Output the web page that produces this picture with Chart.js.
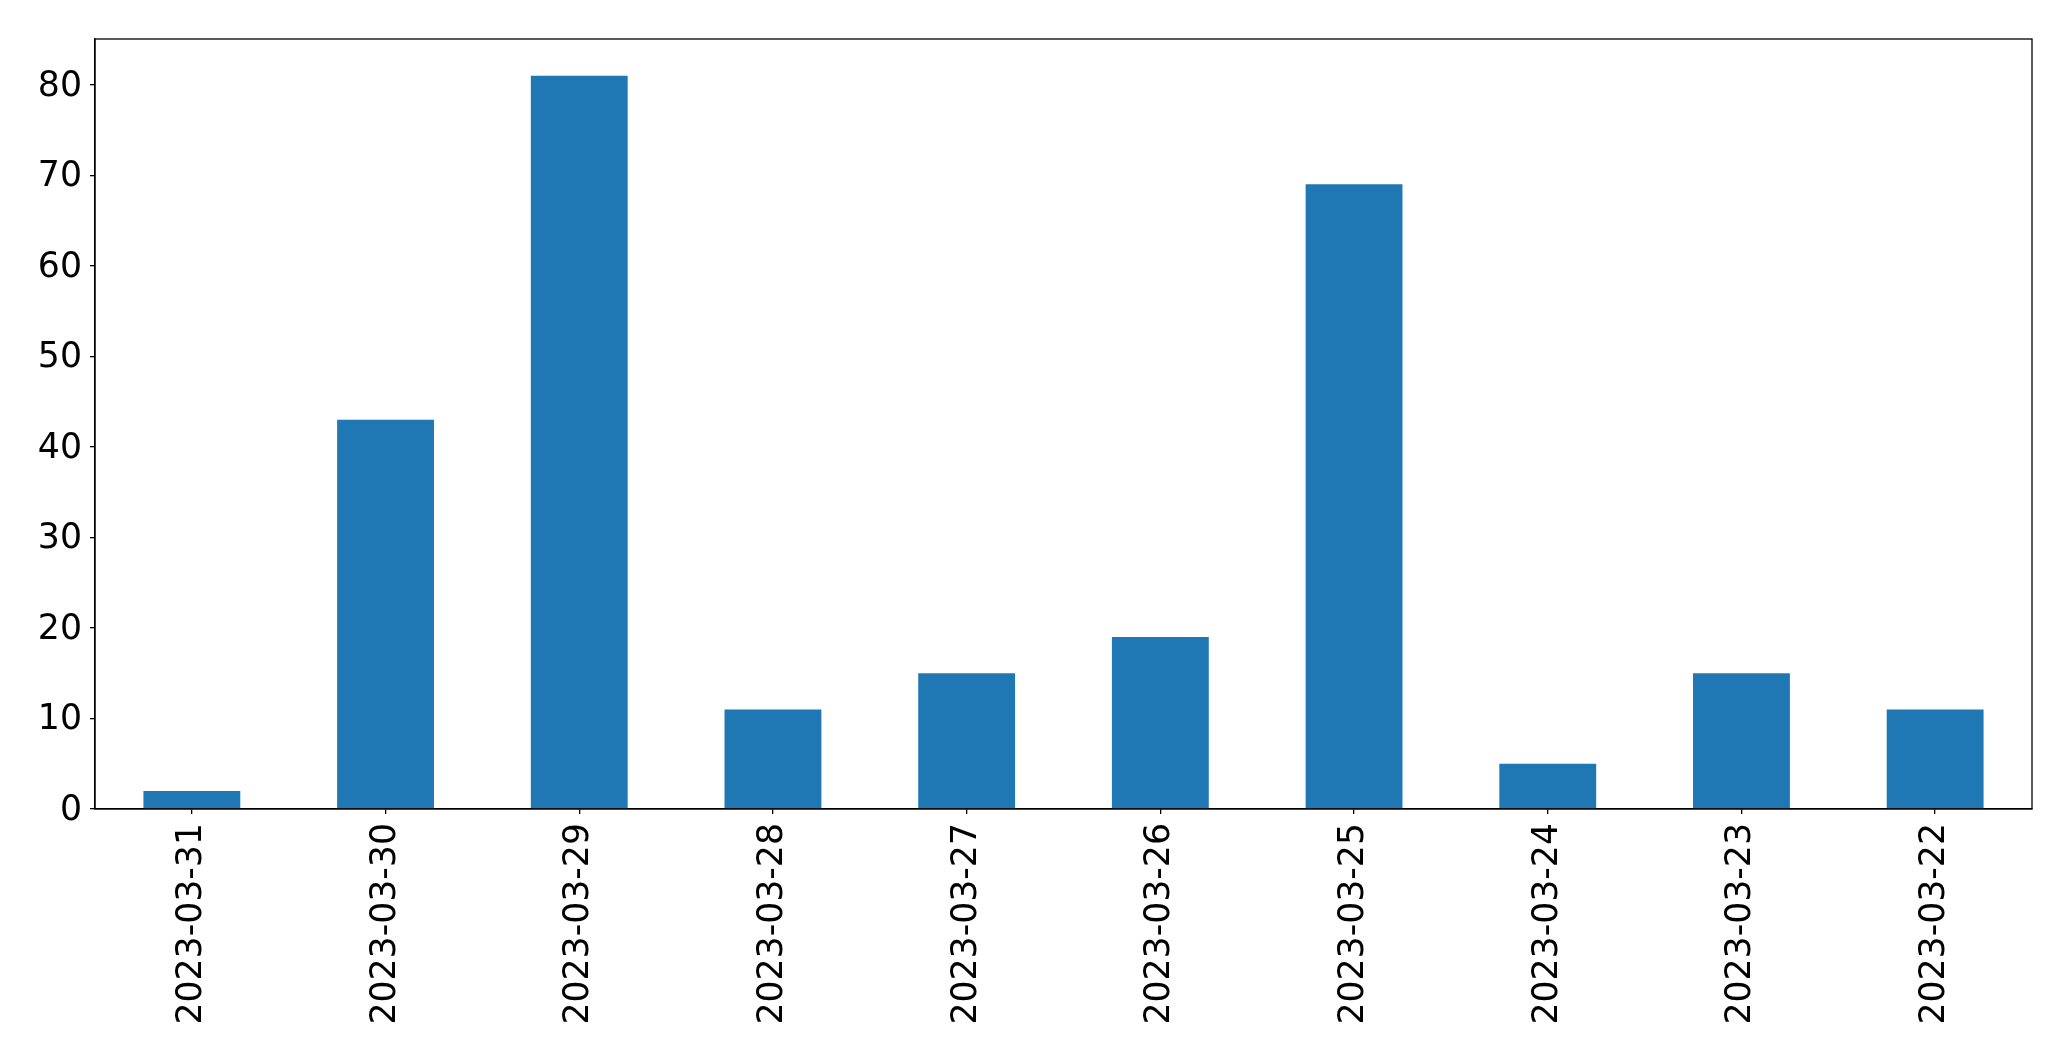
<!DOCTYPE html>
<html>
<head>
<meta charset="utf-8">
<script src="https://cdn.jsdelivr.net/npm/chart.js@4/dist/chart.umd.min.js"></script>
<style>
  html, body { margin: 0; padding: 0; background: #fff; }
  #wrap { width: 2071px; height: 1061px; }
</style>
</head>
<body>
<div id="wrap"><canvas id="chart" width="2071" height="1061"></canvas></div>
<script>
const dates = ["2023-03-31", "2023-03-30", "2023-03-29", "2023-03-28", "2023-03-27",
               "2023-03-26", "2023-03-25", "2023-03-24", "2023-03-23", "2023-03-22"];
const counts = [2, 43, 81, 11, 15, 19, 69, 5, 15, 11];
const yTicks = [0, 10, 20, 30, 40, 50, 60, 70, 80];

// matplotlib-style frame round the whole plot area
const frame = {
  id: "frame",
  afterDraw(chart) {
    const { ctx, chartArea: a } = chart;
    ctx.save();
    ctx.strokeStyle = "#000";
    ctx.lineWidth = 1.3;
    ctx.strokeRect(a.left, a.top, a.right - a.left, a.bottom - a.top);
    ctx.restore();
  }
};

const font = { family: "'DejaVu Sans'", size: 34.7 };

new Chart(document.getElementById("chart"), {
  type: "bar",
  data: {
    labels: dates,
    datasets: [{
      data: counts,
      backgroundColor: "#1f77b4",
      borderWidth: 0,
      categoryPercentage: 1,
      barPercentage: 0.5
    }]
  },
  options: {
    responsive: false,
    animation: false,
    layout: { padding: { top: 39, right: 39, left: 0, bottom: 0 } },
    plugins: { legend: { display: false }, tooltip: { enabled: false } },
    scales: {
      x: {
        offset: true,
        grid: { display: true, offset: false, drawOnChartArea: false, drawTicks: true, tickLength: 5, color: "#000", lineWidth: 1.3 },
        border: { display: true, color: "#000", width: 1.3 },
        ticks: { color: "#000", font, minRotation: 90, maxRotation: 90, padding: 9, autoSkip: false },
        afterFit(scale) { scale.height = 252; }
      },
      y: {
        min: 0,
        max: Math.max(...counts) * 1.05,
        grid: { display: true, drawOnChartArea: false, drawTicks: true, tickLength: 5, color: "#000", lineWidth: 1.3 },
        border: { display: true, color: "#000", width: 1.3 },
        ticks: { color: "#000", font, padding: 8, labelOffset: 2 },
        afterBuildTicks(scale) { scale.ticks = yTicks.map((v) => ({ value: v })); },
        afterFit(scale) { scale.width = 95; }
      }
    }
  },
  plugins: [frame]
});
</script>
</body>
</html>
